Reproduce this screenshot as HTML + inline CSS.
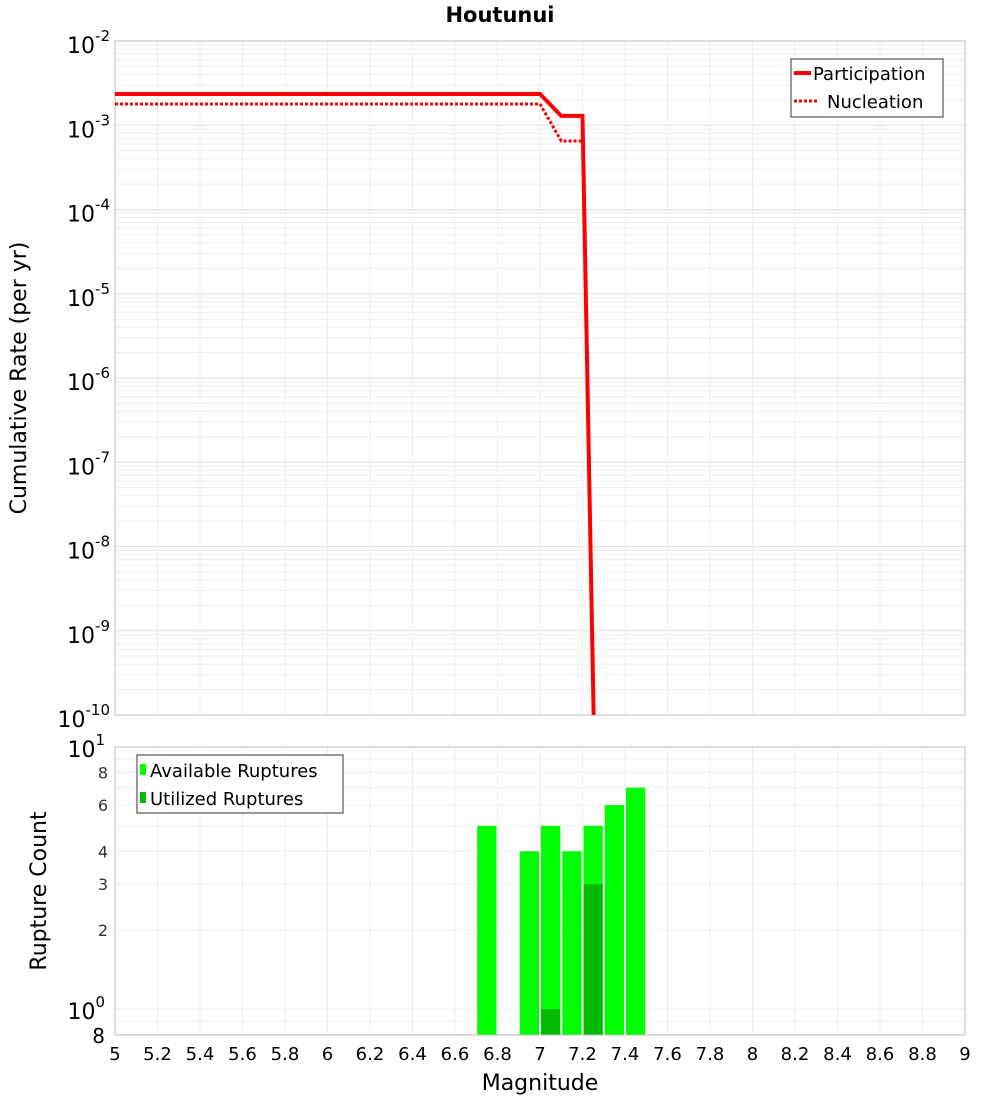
<!DOCTYPE html>
<html><head><meta charset="utf-8"><style>
body{margin:0;background:#fff;}
svg{font-family:"DejaVu Sans","Liberation Sans",sans-serif;}
</style></head><body>
<svg id="c" width="1000" height="1100" xmlns="http://www.w3.org/2000/svg"></svg>
<script>
const partMags=[5,5.1,5.2,5.3,5.4,5.5,5.6,5.7,5.8,5.9,6,6.1,6.2,6.3,6.4,6.5,6.6,6.7,6.8,6.9,7.0,7.1,7.2,7.3];
const partRates=[2.35e-3,2.35e-3,2.35e-3,2.35e-3,2.35e-3,2.35e-3,2.35e-3,2.35e-3,2.35e-3,2.35e-3,2.35e-3,2.35e-3,2.35e-3,2.35e-3,2.35e-3,2.35e-3,2.35e-3,2.35e-3,2.35e-3,2.35e-3,2.35e-3,1.29e-3,1.29e-3,3.5e-17];
const nuclMags=[5,5.1,5.2,5.3,5.4,5.5,5.6,5.7,5.8,5.9,6,6.1,6.2,6.3,6.4,6.5,6.6,6.7,6.8,6.9,7.0,7.1,7.2];
const nuclRates=[1.79e-3,1.79e-3,1.79e-3,1.79e-3,1.79e-3,1.79e-3,1.79e-3,1.79e-3,1.79e-3,1.79e-3,1.79e-3,1.79e-3,1.79e-3,1.79e-3,1.79e-3,1.79e-3,1.79e-3,1.79e-3,1.79e-3,1.79e-3,1.79e-3,6.5e-4,6.5e-4];
const barMags=[6.75,6.95,7.05,7.15,7.25,7.35,7.45];
const availCounts=[5,4,5,4,5,6,7];
const usedMags=[7.05,7.25];
const usedCounts=[1,3];
const xTicks=[5,5.2,5.4,5.6,5.8,6,6.2,6.4,6.6,6.8,7,7.2,7.4,7.6,7.8,8,8.2,8.4,8.6,8.8,9];
const xTickLabels=["5","5.2","5.4","5.6","5.8","6","6.2","6.4","6.6","6.8","7","7.2","7.4","7.6","7.8","8","8.2","8.4","8.6","8.8","9"];

const S=document.getElementById('c');const NS='http://www.w3.org/2000/svg';
function el(t,a,p){const e=document.createElementNS(NS,t);for(const k in a)e.setAttribute(k,a[k]);(p||S).appendChild(e);return e;}
function sup(t,base,ex){t.textContent=base;const s=el('tspan',{dy:-12,'font-size':15},t);s.textContent=ex;}
const X0=115,X1=965;
const x=m=>X0+(m-5)/4*(X1-X0);
const T0=41,T1=715;
const yT=v=>T0+(-2-Math.log10(v))*(T1-T0)/8;
const B0=747,B1=1035;
const yB=v=>B0+(1-Math.log10(v))*262;

const topG=el('g',{});


el('rect',{x:X0,y:T0,width:X1-X0,height:T1-T0,fill:'#fff'},topG);
for(let d=-10;d<-2;d++)for(let k=1;k<10;k++){const yy=yT(k*Math.pow(10,d));el('line',{x1:X0,x2:X1,y1:yy,y2:yy,stroke:k==1?'#ddd':'#eee','stroke-width':1},topG);}
for(const t of xTicks){el('line',{x1:x(t),x2:x(t),y1:T0,y2:T1,stroke:'#eee'},topG);}
el('rect',{x:X0,y:T0,width:X1-X0,height:T1-T0,fill:'none',stroke:'#bbb'},topG);
for(let d=-10;d<=-2;d++){const t=el('text',{x:110,y:yT(Math.pow(10,d))+12,'text-anchor':'end','font-size':22},topG);


sup(t,'10',String(d));}
const cp=el('clipPath',{id:'cp'});el('rect',{x:X0,y:T0,width:X1-X0,height:T1-T0},cp);
const part=el('polyline',{points:partMags.map((m,i)=>x(m)+','+yT(partRates[i])).join(' '),fill:'none',stroke:'#f00','stroke-width':4,'clip-path':'url(#cp)'},topG);


const nuc=el('polyline',{points:nuclMags.map((m,i)=>x(m)+','+yT(nuclRates[i])).join(' '),fill:'none',stroke:'#f00','stroke-width':3,'stroke-dasharray':'3,2','clip-path':'url(#cp)'},topG);


const lg=el('g',{});


el('rect',{x:791,y:59,width:152,height:58,fill:'#fff',stroke:'#333'},lg);
el('line',{x1:794,x2:811,y1:73,y2:73,stroke:'#f00','stroke-width':4},lg);
el('text',{x:813,y:80,'font-size':18},lg).textContent='Participation';
el('line',{x1:794,x2:817,y1:101,y2:101,stroke:'#f00','stroke-width':3,'stroke-dasharray':'3,2'},lg);
el('text',{x:827,y:108,'font-size':18},lg).textContent='Nucleation';
const tt=el('text',{x:500,y:22,'text-anchor':'middle','font-size':21,'font-weight':'bold'});tt.textContent='Houtunui';


const yt=el('text',{x:0,y:0,'text-anchor':'middle','font-size':22,transform:'translate(26,378) rotate(-90)'});yt.textContent='Cumulative Rate (per yr)';



const bot=el('g',{});


for(const v of [0.8,0.9,1,2,3,4,5,6,7,8,9,10]){el('line',{x1:X0,x2:X1,y1:yB(v),y2:yB(v),stroke:'#eee'},bot);}
for(const t of xTicks){el('line',{x1:x(t),x2:x(t),y1:B0,y2:B1,stroke:'#eee'},bot);}
for(let i=0;i<barMags.length;i++){const r=el('rect',{x:x(barMags[i]-0.05)+1,y:yB(availCounts[i]),width:x(5.1)-X0-2,height:B1-yB(availCounts[i]),fill:'#00ff00'},bot);

}
for(let i=0;i<usedMags.length;i++){const r=el('rect',{x:x(usedMags[i]-0.05)+1,y:yB(usedCounts[i]),width:x(5.1)-X0-2,height:B1-yB(usedCounts[i]),fill:'#00bb00'},bot);

}
el('rect',{x:X0,y:B0,width:X1-X0,height:B1-B0,fill:'none',stroke:'#bbb'},bot);
for(const v of [8,6,4,3,2]){el('text',{x:108,y:yB(v)+6,'text-anchor':'end','font-size':16,fill:'#333'},bot).textContent=String(v);}
sup(el('text',{x:105,y:yB(10)+10,'text-anchor':'end','font-size':22},bot),'10','1');
sup(el('text',{x:105,y:yB(1)+10,'text-anchor':'end','font-size':22},bot),'10','0');
el('text',{x:105,y:1043,'text-anchor':'end','font-size':20},bot).textContent='8';
const bl=el('g',{});


el('rect',{x:137,y:755,width:206,height:58,fill:'#fff',stroke:'#333'},bl);
el('rect',{x:140,y:764,width:6,height:11,fill:'#00ff00'},bl);
el('text',{x:150,y:777,'font-size':18},bl).textContent='Available Ruptures';
el('rect',{x:140,y:792,width:6,height:11,fill:'#00bb00'},bl);
el('text',{x:150,y:805,'font-size':18},bl).textContent='Utilized Ruptures';
const yt2=el('text',{x:0,y:0,'text-anchor':'middle','font-size':22,transform:'translate(46,891) rotate(-90)'});yt2.textContent='Rupture Count';


for(let i=0;i<xTicks.length;i++){const t=el('text',{x:x(xTicks[i]),y:1060,'text-anchor':'middle','font-size':18});t.textContent=xTickLabels[i];

}
const xt=el('text',{x:540,y:1090,'text-anchor':'middle','font-size':22});xt.textContent='Magnitude';


</script>
</body></html>
